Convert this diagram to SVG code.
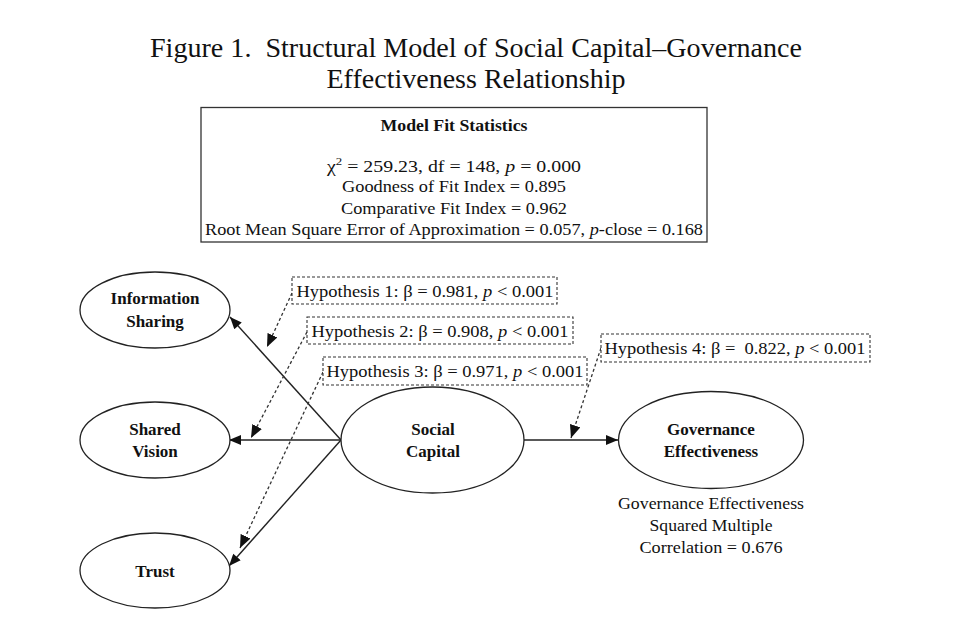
<svg xmlns="http://www.w3.org/2000/svg" width="972" height="632" viewBox="0 0 972 632">
<style>
text{font-family:"Liberation Serif","Times New Roman",serif;fill:#111}
.title{font-size:28px}
.stat{font-size:17px}
.node{font-size:17px;font-weight:bold}
.hyp{font-size:16.5px}
.ell{fill:#fff;stroke:#222;stroke-width:1.3}
.dbox{fill:#fff;stroke:#333;stroke-width:1.1;stroke-dasharray:3 2}
.solid{fill:none;stroke:#222;stroke-width:1.4}
.dot{fill:none;stroke:#333;stroke-width:1.3;stroke-dasharray:3 2.5}
</style>
<defs>
<marker id="ah" viewBox="0 0 12 10" refX="12" refY="5" markerWidth="13" markerHeight="10" markerUnits="userSpaceOnUse" orient="auto"><path d="M0,0 L12,5 L0,10 z" fill="#111"/></marker>
<marker id="ahd" viewBox="0 0 12 10" refX="12" refY="5" markerWidth="13" markerHeight="11" markerUnits="userSpaceOnUse" orient="auto"><path d="M0,0 L12,5 L0,10 z" fill="#111"/></marker>
</defs>
<rect width="972" height="632" fill="#fff"/>
<g id="title">
<text class="title" x="476" y="57" text-anchor="middle" textLength="652" lengthAdjust="spacingAndGlyphs" xml:space="preserve">Figure 1.  Structural Model of Social Capital–Governance</text>
<text class="title" x="476" y="88" text-anchor="middle" textLength="299" lengthAdjust="spacingAndGlyphs">Effectiveness Relationship</text>
</g>
<g id="fit-stats">
<rect x="201" y="107.5" width="506" height="134.5" fill="#fff" stroke="#333" stroke-width="1.3"/>
<text class="stat" x="454" y="131" text-anchor="middle" font-weight="bold" textLength="147" lengthAdjust="spacingAndGlyphs">Model Fit Statistics</text>
<text class="stat" x="454" y="172" text-anchor="middle" textLength="254" lengthAdjust="spacingAndGlyphs">χ<tspan dy="-7" font-size="11">2</tspan><tspan dy="7"> =  259.23, df = 148, </tspan><tspan font-style="italic">p</tspan> = 0.000</text>
<text class="stat" x="454" y="192" text-anchor="middle" textLength="224" lengthAdjust="spacingAndGlyphs">Goodness of Fit Index = 0.895</text>
<text class="stat" x="454" y="214" text-anchor="middle" textLength="226" lengthAdjust="spacingAndGlyphs">Comparative Fit Index = 0.962</text>
<text class="stat" x="454" y="235" text-anchor="middle" textLength="498" lengthAdjust="spacingAndGlyphs">Root Mean Square Error of Approximation = 0.057, <tspan font-style="italic">p</tspan>-close = 0.168</text>
</g>
<g id="connectors">
<line class="solid" x1="341" y1="440" x2="230" y2="317" marker-end="url(#ah)"/>
<line class="solid" x1="341" y1="440" x2="229" y2="440" marker-end="url(#ah)"/>
<line class="solid" x1="341" y1="440" x2="229" y2="566" marker-end="url(#ah)"/>
<line class="solid" x1="524" y1="440" x2="618" y2="440" marker-end="url(#ah)"/>
<line class="dot" x1="292" y1="293" x2="267" y2="347" marker-end="url(#ahd)"/>
<line class="dot" x1="307" y1="332" x2="251" y2="438" marker-end="url(#ahd)"/>
<line class="dot" x1="323" y1="372" x2="240" y2="548" marker-end="url(#ahd)"/>
<line class="dot" x1="601" y1="348" x2="571" y2="438" marker-end="url(#ahd)"/>
</g>
<g id="information-sharing">
<ellipse class="ell" cx="155" cy="310" rx="75" ry="38"/>
<text class="node" x="155" y="304" text-anchor="middle">Information</text>
<text class="node" x="155" y="327" text-anchor="middle">Sharing</text>
</g>
<g id="shared-vision">
<ellipse class="ell" cx="155" cy="440" rx="75" ry="38"/>
<text class="node" x="155" y="435" text-anchor="middle">Shared</text>
<text class="node" x="155" y="457" text-anchor="middle">Vision</text>
</g>
<g id="trust">
<ellipse class="ell" cx="155" cy="570.5" rx="75" ry="37.5"/>
<text class="node" x="155" y="577" text-anchor="middle">Trust</text>
</g>
<g id="social-capital">
<ellipse class="ell" cx="432.5" cy="440" rx="91.5" ry="53"/>
<text class="node" x="433" y="435" text-anchor="middle">Social</text>
<text class="node" x="433" y="457" text-anchor="middle">Capital</text>
</g>
<g id="governance-effectiveness">
<ellipse class="ell" cx="711" cy="440" rx="92.5" ry="48.5"/>
<text class="node" x="711" y="435" text-anchor="middle">Governance</text>
<text class="node" x="711" y="457" text-anchor="middle">Effectiveness</text>
</g>
<g id="hypothesis-1">
<rect class="dbox" x="292" y="277" width="265" height="27"/>
<text class="hyp" x="425" y="297" text-anchor="middle" textLength="257" lengthAdjust="spacingAndGlyphs">Hypothesis 1: β = 0.981, <tspan font-style="italic">p</tspan> &lt; 0.001</text>
</g>
<g id="hypothesis-2">
<rect class="dbox" x="307" y="317" width="266" height="27"/>
<text class="hyp" x="440" y="337" text-anchor="middle" textLength="257" lengthAdjust="spacingAndGlyphs">Hypothesis 2: β = 0.908, <tspan font-style="italic">p</tspan> &lt; 0.001</text>
</g>
<g id="hypothesis-3">
<rect class="dbox" x="323" y="357" width="264" height="28"/>
<text class="hyp" x="455" y="377" text-anchor="middle" textLength="257" lengthAdjust="spacingAndGlyphs">Hypothesis 3: β = 0.971, <tspan font-style="italic">p</tspan> &lt; 0.001</text>
</g>
<g id="hypothesis-4">
<rect class="dbox" x="601" y="334" width="269" height="28"/>
<text class="hyp" x="735" y="354" text-anchor="middle" textLength="261" lengthAdjust="spacingAndGlyphs" xml:space="preserve">Hypothesis 4: β =  0.822, <tspan font-style="italic">p</tspan> &lt; 0.001</text>
</g>
<g id="r-squared">
<text class="stat" x="711" y="509" text-anchor="middle" textLength="186" lengthAdjust="spacingAndGlyphs">Governance Effectiveness</text>
<text class="stat" x="711" y="531" text-anchor="middle" textLength="123" lengthAdjust="spacingAndGlyphs">Squared Multiple</text>
<text class="stat" x="711" y="553" text-anchor="middle" textLength="143" lengthAdjust="spacingAndGlyphs">Correlation = 0.676</text>
</g>
</svg>
